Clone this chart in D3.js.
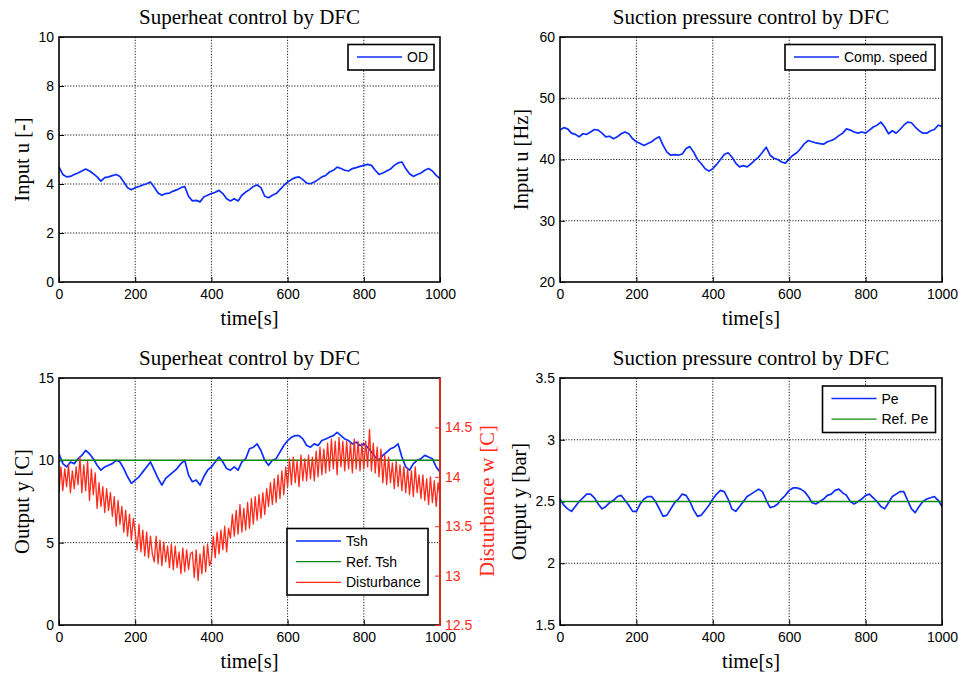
<!DOCTYPE html>
<html lang="en">
<head>
<meta charset="UTF-8" />
<title>Superheat and suction pressure control by DFC</title>
<script src="https://d3js.org/d3.v7.min.js"></script>
<style>
    body { margin: 0; background: #fff; }
</style>
</head>
<body>
<script>
    // time axis
    var timeTicks = [0, 200, 400, 600, 800, 1000];
    var t10 = d3.range(0, 1001, 10);   // samples every 10 s
    var t5 = d3.range(0, 1001, 5);     // disturbance samples every 5 s

    // Input u, OD (superheat loop)
    var odInput = [
        4.69,4.39,4.29,4.31,4.39,4.45,4.53,4.61,4.53,4.42,
        4.29,4.12,4.26,4.29,4.34,4.39,4.31,4.08,3.85,3.77,
        3.85,3.90,3.96,4.01,4.08,3.87,3.63,3.54,3.61,3.63,
        3.71,3.77,3.85,3.90,3.50,3.31,3.33,3.27,3.47,3.54,
        3.61,3.66,3.74,3.61,3.40,3.31,3.40,3.31,3.54,3.67,
        3.77,3.90,3.96,3.85,3.50,3.44,3.54,3.61,3.77,3.94,
        4.08,4.18,4.26,4.29,4.18,4.04,4.01,4.08,4.18,4.29,
        4.35,4.49,4.56,4.69,4.63,4.56,4.53,4.63,4.67,4.72,
        4.76,4.80,4.76,4.56,4.39,4.45,4.53,4.61,4.76,4.86,
        4.90,4.63,4.42,4.31,4.39,4.45,4.56,4.63,4.53,4.35,
        4.22];

    // Input u, compressor speed [Hz]
    var compSpeed = [
        44.8,45.2,45.0,44.3,44.1,43.7,44.2,44.1,44.5,44.9,
        44.8,44.3,43.7,43.8,43.4,43.7,44.2,44.5,44.2,43.4,
        42.9,42.6,42.3,42.6,42.9,43.4,43.7,42.3,41.2,40.7,
        40.8,40.7,40.9,41.8,42.1,41.2,40.0,39.3,38.5,38.1,
        38.5,39.2,40.0,40.8,41.1,40.4,39.4,38.8,39.0,38.8,
        39.3,39.9,40.4,41.2,42.0,40.7,40.2,40.0,39.6,39.4,
        40.1,40.7,41.1,41.8,42.6,43.1,42.9,42.7,42.6,42.5,
        42.9,43.1,43.4,43.9,44.3,45.0,44.8,44.5,44.3,44.5,
        44.3,44.8,45.3,45.6,46.1,45.3,44.2,44.7,44.3,44.9,
        45.6,46.1,46.0,45.3,44.7,44.3,44.3,44.7,44.9,45.6,
        45.4];

    // Output y, superheat Tsh [C]
    var tsh = [
        10.4,9.8,9.6,9.9,9.8,10.1,10.3,10.6,10.4,10.1,
        9.7,9.4,9.6,9.7,9.8,10.0,9.9,9.5,9.0,8.6,
        8.8,9.0,9.3,9.6,9.9,9.4,8.9,8.5,8.9,9.1,
        9.3,9.5,9.8,10.0,9.1,8.7,8.8,8.5,9.0,9.4,
        9.6,9.9,10.2,9.9,9.5,9.4,9.6,9.4,9.9,10.1,
        10.7,10.8,11.0,10.6,10.0,9.7,10.0,10.1,10.5,10.9,
        11.2,11.4,11.5,11.5,11.3,10.9,10.8,11.0,10.9,11.2,
        11.3,11.4,11.5,11.7,11.5,11.3,11.2,11.0,11.1,10.9,
        11.0,10.8,10.5,10.2,10.0,10.3,10.5,10.7,10.8,11.0,
        10.2,9.6,9.4,9.8,10.0,10.1,10.3,10.2,10.1,9.6,
        9.3];
    var refTsh = 10;

    // Disturbance w [C] (right axis)
    var disturbance = [
        13.84,14.10,13.86,14.08,13.90,14.12,13.84,14.06,13.88,14.10,
        13.92,14.20,13.84,14.12,13.86,14.16,13.76,14.08,13.82,14.04,
        13.68,13.94,13.70,13.90,13.64,13.88,13.66,13.84,13.60,13.80,
        13.50,13.76,13.52,13.70,13.44,13.66,13.40,13.62,13.36,13.58,
        13.44,13.26,13.52,13.24,13.46,13.20,13.44,13.18,13.40,13.22,
        13.14,13.40,13.12,13.36,13.10,13.34,13.14,13.30,13.08,13.32,
        13.06,13.30,13.08,13.24,13.02,13.28,13.04,13.26,13.06,13.22,
        13.24,12.98,13.26,12.95,13.22,13.02,13.30,13.04,13.32,13.10,
        13.16,13.40,13.18,13.44,13.22,13.46,13.26,13.50,13.24,13.48,
        13.38,13.62,13.40,13.66,13.42,13.72,13.44,13.68,13.46,13.74,
        13.48,13.78,13.52,13.80,13.56,13.82,13.58,13.84,13.62,13.88,
        13.70,13.94,13.72,13.98,13.74,14.02,13.78,14.06,13.82,14.10,
        13.90,14.18,13.92,14.20,13.94,14.16,13.90,14.22,13.96,14.18,
        13.96,14.22,13.98,14.20,13.96,14.26,14.00,14.30,14.02,14.28,
        14.04,14.34,14.06,14.38,14.08,14.36,14.02,14.40,14.10,14.36,
        14.06,14.36,14.08,14.34,14.04,14.38,14.08,14.36,14.06,14.34,
        14.08,14.36,14.10,14.48,14.06,14.34,14.04,14.30,14.00,14.28,
        13.94,14.22,13.92,14.20,13.94,14.14,13.88,14.16,13.90,14.12,
        13.86,14.10,13.84,14.08,13.82,14.06,13.80,14.10,13.84,14.02,
        13.78,14.02,13.76,13.98,13.72,14.00,13.74,13.96,13.70,13.94,
        13.80];

    // Output y, evaporating pressure Pe [bar]
    var pe = [
        2.52,2.47,2.44,2.42,2.46,2.50,2.53,2.56,2.56,2.53,
        2.48,2.44,2.46,2.49,2.51,2.54,2.55,2.51,2.47,2.42,
        2.42,2.48,2.52,2.54,2.54,2.50,2.44,2.38,2.39,2.44,
        2.49,2.52,2.56,2.55,2.50,2.43,2.38,2.39,2.43,2.47,
        2.52,2.56,2.59,2.58,2.52,2.44,2.42,2.46,2.50,2.54,
        2.56,2.58,2.60,2.58,2.51,2.45,2.46,2.48,2.52,2.55,
        2.59,2.61,2.61,2.60,2.58,2.54,2.49,2.48,2.50,2.52,
        2.55,2.56,2.59,2.60,2.57,2.55,2.50,2.48,2.50,2.52,
        2.55,2.56,2.53,2.50,2.46,2.44,2.49,2.54,2.56,2.58,
        2.58,2.51,2.44,2.41,2.46,2.50,2.52,2.53,2.54,2.51,
        2.46];
    var refPe = 2.5;

    var blue = "#0d2dff";
    var green = "#0a8a0a";
    var red = "#ff2a1a";
    var serif = "'Liberation Serif', 'Times New Roman', serif";
    var sans = "'Liberation Sans', Arial, sans-serif";

    var w = 958, h = 674;
    var svg = d3.select("body").append("svg")
        .attr("width", w)
        .attr("height", h);

    function panel(o) {
        var g = svg.append("g");
        var x = d3.scaleLinear().domain([0, 1000]).range([o.left, o.right]);
        var y = d3.scaleLinear().domain(o.yDomain).range([o.bottom, o.top]);

        // dotted grid
        g.selectAll(null).data(timeTicks.slice(1, -1)).enter().append("line")
            .attr("x1", function(d){ return x(d); })
            .attr("x2", function(d){ return x(d); })
            .attr("y1", o.top).attr("y2", o.bottom)
            .attr("stroke", "#000").attr("stroke-width", 0.9)
            .attr("stroke-dasharray", "1.2,1.6");
        g.selectAll(null).data(o.yTicks.slice(1, -1)).enter().append("line")
            .attr("x1", o.left).attr("x2", o.right)
            .attr("y1", function(d){ return y(d); })
            .attr("y2", function(d){ return y(d); })
            .attr("stroke", "#000").attr("stroke-width", 0.9)
            .attr("stroke-dasharray", "1.2,1.6");

        // axes (ticks point inward like MATLAB)
        var xAxis = g.append("g")
            .attr("transform", "translate(0," + o.bottom + ")")
            .call(d3.axisBottom(x).tickValues(timeTicks).tickSize(-5).tickPadding(7)
                .tickFormat(function(d){ return String(d); }));
        var yAxis = g.append("g")
            .attr("transform", "translate(" + o.left + ",0)")
            .call(d3.axisLeft(y).tickValues(o.yTicks).tickSize(-5).tickPadding(5)
                .tickFormat(function(d){ return String(d); }));
        [xAxis, yAxis].forEach(function(a){
            a.select(".domain").remove();
            a.selectAll("text").attr("font-family", sans).attr("font-size", 14).attr("fill", "#000");
            a.selectAll(".tick line").attr("stroke", "#000");
        });

        var clipId = "clip" + o.id;
        svg.append("clipPath").attr("id", clipId).append("rect")
            .attr("x", o.left).attr("y", o.top)
            .attr("width", o.right - o.left).attr("height", o.bottom - o.top);
        var plot = g.append("g").attr("clip-path", "url(#" + clipId + ")");

        // box
        g.append("rect")
            .attr("x", o.left).attr("y", o.top)
            .attr("width", o.right - o.left).attr("height", o.bottom - o.top)
            .attr("fill", "none").attr("stroke", "#000").attr("stroke-width", 1.6);

        // title and labels
        g.append("text")
            .attr("x", (o.left + o.right) / 2).attr("y", o.top - 13)
            .attr("text-anchor", "middle")
            .attr("font-family", serif).attr("font-size", 21)
            .text(o.title);
        g.append("text")
            .attr("x", (o.left + o.right) / 2).attr("y", o.bottom + 43)
            .attr("text-anchor", "middle")
            .attr("font-family", serif).attr("font-size", 20.5)
            .text("time[s]");
        g.append("text")
            .attr("transform", "translate(" + o.yLabelX + "," + (o.top + o.bottom) / 2 + ") rotate(-90)")
            .attr("text-anchor", "middle")
            .attr("font-family", serif).attr("font-size", 20.5)
            .text(o.yLabel);

        return { g: g, plot: plot, x: x, y: y };
    }

    function line(p, xs, ys, yScale, color, width) {
        var gen = d3.line()
            .x(function(d, i){ return p.x(xs[i]); })
            .y(function(d){ return yScale(d); });
        p.plot.append("path")
            .datum(ys)
            .attr("d", gen)
            .attr("fill", "none")
            .attr("stroke", color)
            .attr("stroke-width", width || 1.7)
            .attr("stroke-linejoin", "round");
    }

    function refLine(p, value, color) {
        p.plot.append("line")
            .attr("x1", p.x(0)).attr("x2", p.x(1000))
            .attr("y1", p.y(value)).attr("y2", p.y(value))
            .attr("stroke", color).attr("stroke-width", 1.5);
    }

    function legend(box, items) {
        var lg = svg.append("g");
        lg.append("rect")
            .attr("x", box.x).attr("y", box.y)
            .attr("width", box.w).attr("height", box.h)
            .attr("fill", "#fff").attr("stroke", "#000").attr("stroke-width", 1.6);
        items.forEach(function(it, i){
            var yy = box.y + box.first + i * box.step;
            lg.append("line")
                .attr("x1", box.x + 9).attr("x2", box.x + 54)
                .attr("y1", yy).attr("y2", yy)
                .attr("stroke", it.color).attr("stroke-width", 1.3);
            lg.append("text")
                .attr("x", box.x + 59).attr("y", yy + 5)
                .attr("font-family", sans).attr("font-size", 14)
                .text(it.name);
        });
    }

    // top left
    var p1 = panel({ id: 1, left: 59, right: 440, top: 37, bottom: 282,
        yDomain: [0, 10], yTicks: [0, 2, 4, 6, 8, 10],
        title: "Superheat control by DFC", yLabel: "Input u [-]", yLabelX: 29 });
    line(p1, t10, odInput, p1.y, blue);
    legend({ x: 348, y: 44.5, w: 86, h: 25.5, first: 12.5, step: 0 }, [{ name: "OD", color: blue }]);

    // top right
    var p2 = panel({ id: 2, left: 560, right: 942, top: 37, bottom: 282,
        yDomain: [20, 60], yTicks: [20, 30, 40, 50, 60],
        title: "Suction pressure control by DFC", yLabel: "Input u [Hz]", yLabelX: 528 });
    line(p2, t10, compSpeed, p2.y, blue);
    legend({ x: 785, y: 44.5, w: 150, h: 25.5, first: 12.5, step: 0 }, [{ name: "Comp. speed", color: blue }]);

    // bottom left, with disturbance on a right axis
    var p3 = panel({ id: 3, left: 59, right: 440, top: 378, bottom: 625,
        yDomain: [0, 15], yTicks: [0, 5, 10, 15],
        title: "Superheat control by DFC", yLabel: "Output y [C]", yLabelX: 29 });
    var yR = d3.scaleLinear().domain([12.5, 15]).range([625, 378]);
    line(p3, t10, tsh, p3.y, blue);
    refLine(p3, refTsh, green);
    line(p3, t5, disturbance, yR, red, 1.3);
    var rAxis = p3.g.append("g")
        .attr("transform", "translate(440,0)")
        .call(d3.axisRight(yR).tickValues([12.5, 13, 13.5, 14, 14.5]).tickSize(-5).tickPadding(5)
            .tickFormat(function(d){ return String(d); }));
    rAxis.select(".domain").remove();
    rAxis.selectAll("text").attr("font-family", sans).attr("font-size", 14).attr("fill", red);
    rAxis.selectAll(".tick line").attr("stroke", red);
    p3.g.append("line")
        .attr("x1", 440).attr("x2", 440).attr("y1", 378).attr("y2", 625)
        .attr("stroke", red).attr("stroke-width", 1.6);
    p3.g.append("text")
        .attr("transform", "translate(494,501) rotate(-90)")
        .attr("text-anchor", "middle")
        .attr("font-family", serif).attr("font-size", 20.5)
        .attr("fill", red)
        .text("Disturbance w [C]");
    legend({ x: 287, y: 528.5, w: 141, h: 66.5, first: 12.5, step: 20.7 }, [
        { name: "Tsh", color: blue },
        { name: "Ref. Tsh", color: green },
        { name: "Disturbance", color: red }
    ]);

    // bottom right
    var p4 = panel({ id: 4, left: 560, right: 942, top: 378, bottom: 625,
        yDomain: [1.5, 3.5], yTicks: [1.5, 2, 2.5, 3, 3.5],
        title: "Suction pressure control by DFC", yLabel: "Output y [bar]", yLabelX: 526 });
    line(p4, t10, pe, p4.y, blue);
    refLine(p4, refPe, green);
    legend({ x: 822.5, y: 386, w: 113, h: 46.5, first: 12.5, step: 20.7 }, [
        { name: "Pe", color: blue },
        { name: "Ref. Pe", color: green }
    ]);
</script>
</body>
</html>
